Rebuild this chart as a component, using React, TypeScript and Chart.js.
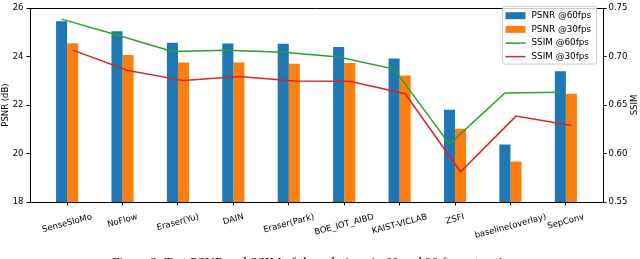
import React, { useEffect, useRef } from 'react';
import { Chart, registerables } from 'chart.js';

Chart.register(...registerables);

const categories = ['SenseSloMo', 'NoFlow', 'Eraser(Yu)', 'DAIN', 'Eraser(Park)', 'BOE_IOT_AIBD', 'KAIST-VICLAB', 'ZSFI', 'baseline(overlay)', 'SepConv'];
const psnr60 = [25.46, 25.04, 24.57, 24.54, 24.53, 24.4, 23.92, 21.81, 20.37, 23.39];
const psnr30 = [24.55, 24.07, 23.76, 23.76, 23.7, 23.73, 23.22, 21.02, 19.67, 22.47];
const ssim60 = [0.7386, 0.7222, 0.7053, 0.7064, 0.7044, 0.6996, 0.6871, 0.6097, 0.6625, 0.6632];
const ssim30 = [0.7067, 0.6857, 0.6752, 0.6795, 0.6748, 0.6746, 0.6617, 0.5812, 0.6386, 0.6288];
const psnrTicks = [18, 20, 22, 24, 26];
const ssimTicks = [0.55, 0.6, 0.65, 0.7, 0.75];
const legendLabels = ['PSNR @60fps', 'PSNR @30fps', 'SSIM @60fps', 'SSIM @30fps'];
const caption = 'Figure 2: Test PSNR and SSIM of the solutions in 60 and 30 fps extraction.';

const BLUE = '#1f77b4';
const ORANGE = '#ff7f0e';
const GREEN = '#2ca02c';
const RED = '#d62728';
const BAR_W = 0.2;

const decor = {
  id: 'decor',
  afterDraw(chart: any) {
    const ctx = chart.ctx;
    const { left, right, top, bottom } = chart.chartArea;
    const xs = chart.scales.x;
    ctx.save();
    // top spine
    ctx.strokeStyle = '#000';
    ctx.lineWidth = 1;
    ctx.beginPath();
    ctx.moveTo(left, Math.round(top) + 0.5);
    ctx.lineTo(right, Math.round(top) + 0.5);
    ctx.stroke();

    // rotated x labels, centered on tick
    ctx.font = '8.5px "DejaVu Sans"';
    ctx.fillStyle = '#000';
    const th = (15 * Math.PI) / 180;
    categories.forEach((lab, i) => {
      const px = xs.getPixelForValue(i);
      const w = ctx.measureText(lab).width;
      const h = 10;
      const bh = w * Math.sin(th) + h * Math.cos(th);
      const cy = bottom + 10 + bh / 2;
      ctx.save();
      ctx.translate(px, cy);
      ctx.rotate(-th);
      ctx.textAlign = 'center';
      ctx.textBaseline = 'middle';
      ctx.fillText(lab, 0, 0);
      ctx.restore();
    });

    // axis titles
    const midY = (top + bottom) / 2;
    ctx.textAlign = 'center';
    ctx.textBaseline = 'middle';
    ctx.save();
    ctx.translate(6, midY);
    ctx.rotate(-Math.PI / 2);
    ctx.fillText('PSNR (dB)', 0, 0);
    ctx.restore();
    ctx.save();
    ctx.translate(635, midY);
    ctx.rotate(-Math.PI / 2);
    ctx.fillText('SSIM', 0, 0);
    ctx.restore();

    // legend
    const lx = 502.5, ly = 6.5, lw = 94, lh = 57.5;
    ctx.beginPath();
    if (ctx.roundRect) ctx.roundRect(lx, ly, lw, lh, 2);
    else ctx.rect(lx, ly, lw, lh);
    ctx.fillStyle = 'rgba(255,255,255,0.8)';
    ctx.fill();
    ctx.strokeStyle = '#cccccc';
    ctx.lineWidth = 1;
    ctx.stroke();
    const colors = [BLUE, ORANGE, GREEN, RED];
    const rows = [15.7, 29.4, 43.1, 56.6];
    ctx.font = '8.8px "DejaVu Sans"';
    ctx.textAlign = 'left';
    legendLabels.forEach((lab, i) => {
      const cy = rows[i];
      if (i < 2) {
        ctx.fillStyle = colors[i];
        ctx.fillRect(505.5, cy - 3.5, 20, 7);
      } else {
        ctx.strokeStyle = colors[i];
        ctx.lineWidth = 1.5;
        ctx.beginPath();
        ctx.moveTo(505.5, cy);
        ctx.lineTo(525.5, cy);
        ctx.stroke();
      }
      ctx.fillStyle = '#000';
      ctx.fillText(lab, 531.5, cy);
    });
    ctx.restore();
  },
};

export default function App() {
  const ref = useRef<HTMLCanvasElement | null>(null);
  useEffect(() => {
    if (!ref.current) return;
    Chart.defaults.font.family = '"DejaVu Sans"';
    Chart.defaults.color = '#000';
    const chart = new Chart(ref.current, {
      type: 'bar',
      data: {
        datasets: [
          {
            type: 'bar',
            label: legendLabels[0],
            data: psnr60.map((v, i) => ({ x: i, y: v })),
            backgroundColor: BLUE,
            xAxisID: 'x',
            yAxisID: 'y',
            categoryPercentage: BAR_W * 2,
            barPercentage: 1,
            order: 2,
          },
          {
            type: 'bar',
            label: legendLabels[1],
            data: psnr30.map((v, i) => ({ x: i, y: v })),
            backgroundColor: ORANGE,
            xAxisID: 'x',
            yAxisID: 'y',
            categoryPercentage: BAR_W * 2,
            barPercentage: 1,
            order: 2,
          },
          {
            type: 'line',
            label: legendLabels[2],
            data: ssim60.map((v, i) => ({ x: i - BAR_W / 2, y: v })),
            borderColor: GREEN,
            backgroundColor: GREEN,
            borderWidth: 1.5,
            pointRadius: 0,
            tension: 0,
            xAxisID: 'x',
            yAxisID: 'y1',
            order: 1,
          },
          {
            type: 'line',
            label: legendLabels[3],
            data: ssim30.map((v, i) => ({ x: i + BAR_W / 2, y: v })),
            borderColor: RED,
            backgroundColor: RED,
            borderWidth: 1.5,
            pointRadius: 0,
            tension: 0,
            xAxisID: 'x',
            yAxisID: 'y1',
            order: 1,
          },
        ] as any,
      },
      options: {
        animation: false,
        responsive: false,
        maintainAspectRatio: false,
        layout: { padding: { top: 4, left: 0, right: 0, bottom: 0 } },
        plugins: { legend: { display: false }, tooltip: { enabled: false } },
        scales: {
          x: {
            type: 'linear',
            position: 'bottom',
            offset: false,
            min: -0.67,
            max: 9.67,
            afterBuildTicks: (s: any) => {
              s.ticks = categories.map((_, i) => ({ value: i }));
            },
            afterFit: (s: any) => {
              s.height = 57;
            },
            ticks: { display: false },
            grid: { display: true, offset: false, drawOnChartArea: false, drawTicks: true, tickLength: 3.5, color: '#000', lineWidth: 1 },
            border: { display: true, color: '#000', width: 1 },
          },
          y: {
            type: 'linear',
            position: 'left',
            min: 18,
            max: 26,
            afterBuildTicks: (s: any) => {
              s.ticks = psnrTicks.map((v) => ({ value: v }));
            },
            afterFit: (s: any) => {
              s.width = 30;
            },
            ticks: { font: { size: 8.5 }, color: '#000', padding: 3 },
            grid: { drawOnChartArea: false, drawTicks: true, tickLength: 3.5, color: '#000', lineWidth: 1 },
            border: { display: true, color: '#000', width: 1 },
          },
          y1: {
            type: 'linear',
            position: 'right',
            min: 0.55,
            max: 0.75,
            afterBuildTicks: (s: any) => {
              s.ticks = ssimTicks.map((v) => ({ value: v }));
            },
            afterFit: (s: any) => {
              s.width = 37;
            },
            ticks: { font: { size: 8.5 }, color: '#000', padding: 2, callback: (v: any) => Number(v).toFixed(2) },
            grid: { drawOnChartArea: false, drawTicks: true, tickLength: 3.5, color: '#000', lineWidth: 1 },
            border: { display: true, color: '#000', width: 1 },
          },
        },
      } as any,
      plugins: [decor],
    });
    return () => chart.destroy();
  }, []);

  return (
    <div style={{ position: 'fixed', left: 0, top: 0, width: 640, height: 259, overflow: 'hidden', background: '#fff' }}>
      <canvas ref={ref} width={640} height={259} style={{ display: 'block' }} />
      <div
        style={{
          position: 'absolute',
          left: 112,
          top: 254.5,
          fontFamily: '"Liberation Serif", serif',
          fontSize: 13.5,
          lineHeight: '13.5px',
          whiteSpace: 'nowrap',
          color: '#000',
        }}
      >
        {caption}
      </div>
    </div>
  );
}
